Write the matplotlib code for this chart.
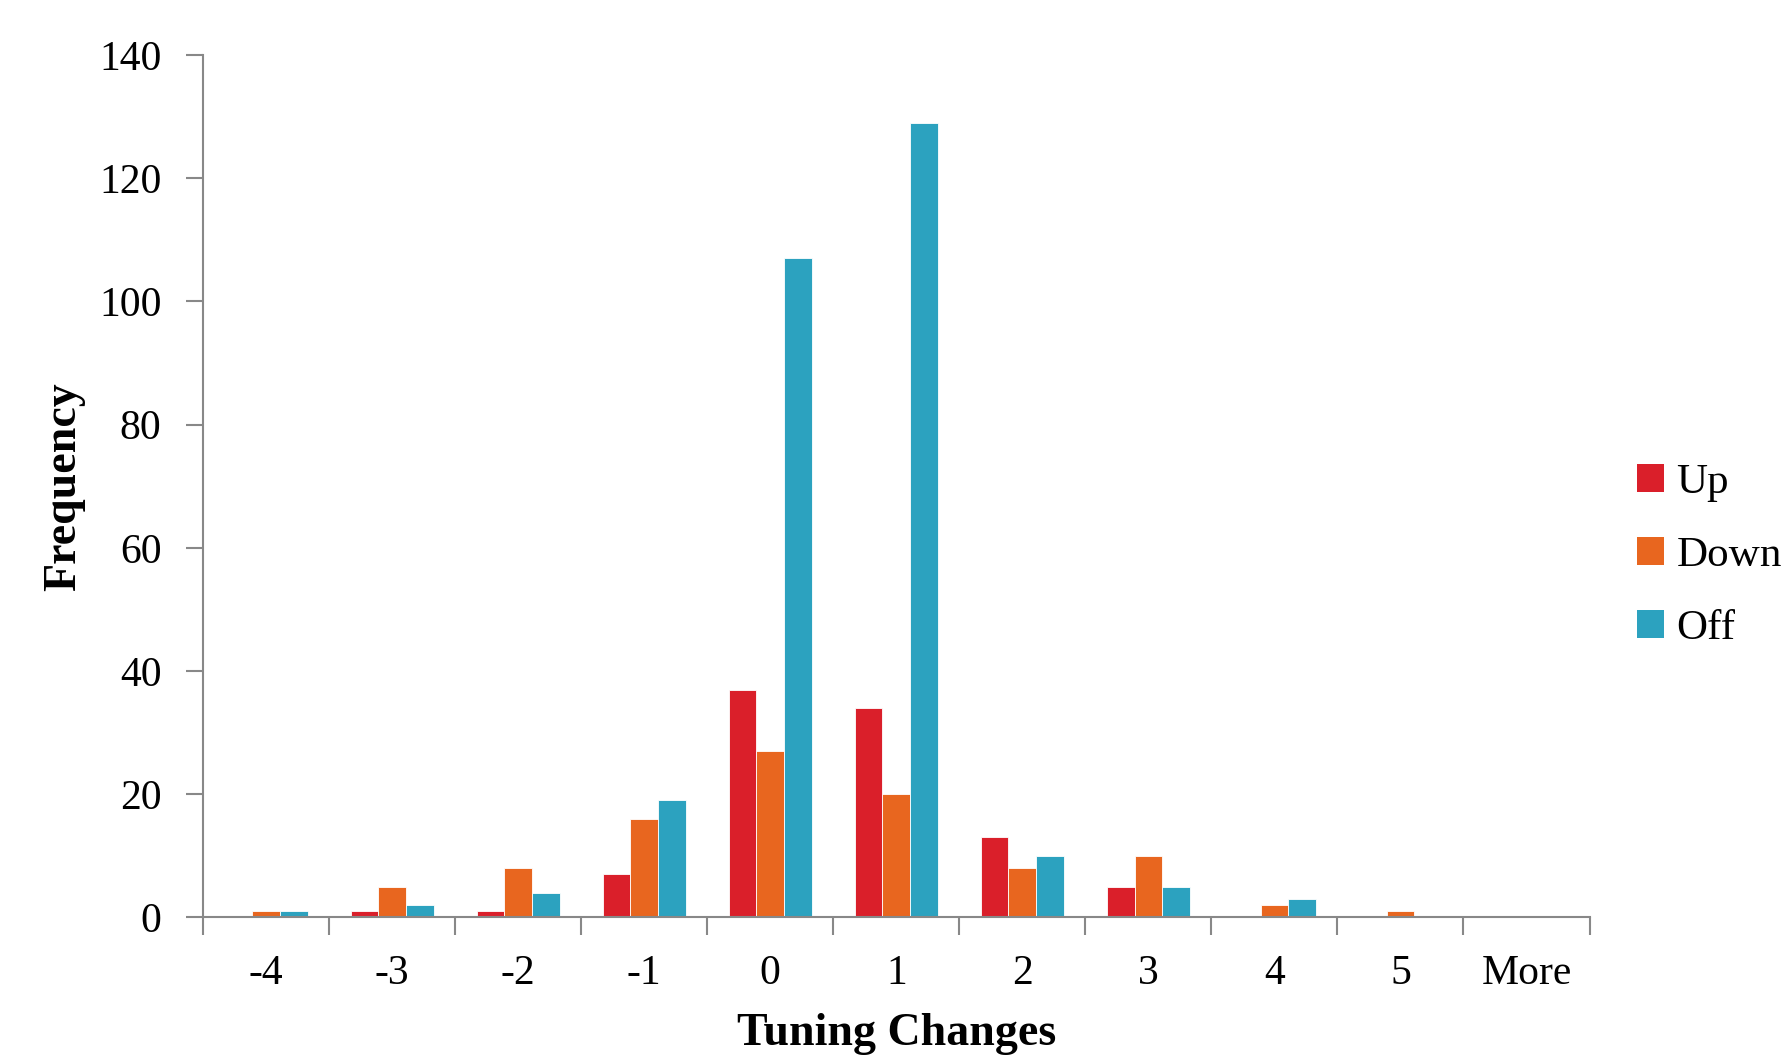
import numpy as np
import matplotlib.pyplot as plt
from matplotlib.patches import Patch

categories = ['-4', '-3', '-2', '-1', '0', '1', '2', '3', '4', '5', 'More']
up = [0, 1, 1, 7, 37, 34, 13, 5, 0, 0, 0]
down = [1, 5, 8, 16, 27, 20, 8, 10, 2, 1, 0]
off = [1, 2, 4, 19, 107, 129, 10, 5, 3, 0, 0]
series = [('Up', up, '#DA1F2A'), ('Down', down, '#E8661F'), ('Off', off, '#2CA2BF')]

plt.rcParams['font.family'] = ['Liberation Serif', 'DejaVu Serif']

fig = plt.figure(figsize=(17.89, 10.57), dpi=100)
ax = fig.add_axes([0.1135, 0.132, 0.775, 0.816])

x = np.arange(len(categories))
w = 0.22
for i, (name, vals, col) in enumerate(series):
    ax.bar(x + (i - 1) * w, vals, width=w, color=col, edgecolor='white',
           linewidth=0.6, label=name, zorder=2)

ax.set_xlim(-0.5, len(categories) - 0.5)
ax.set_ylim(0, 140)
ax.set_yticks(range(0, 141, 20))
ax.set_xticks(x)
ax.set_xticklabels(categories, fontsize=30)
ax.set_xticks(np.arange(-0.5, len(categories), 1), minor=True)
ax.tick_params(axis='x', which='major', length=0, pad=27)
ax.tick_params(axis='x', which='minor', length=13, width=1.5, color='#888888', direction='out')
ax.tick_params(axis='y', labelsize=30, length=12, width=1.5, color='#888888', pad=18)

for s in ['top', 'right']:
    ax.spines[s].set_visible(False)
for s in ['left', 'bottom']:
    ax.spines[s].set_color('#888888')
    ax.spines[s].set_linewidth(1.5)

ax.set_ylabel('Frequency', fontsize=33, fontweight='bold', labelpad=10)
ax.set_xlabel('Tuning Changes', fontsize=33, fontweight='bold', labelpad=14)

handles = [Patch(facecolor=c, label=n) for n, _, c in series]
fig.legend(handles=handles, loc='center left', bbox_to_anchor=(0.915, 0.474),
           frameon=False, fontsize=31, handlelength=0.62, handleheight=0.62,
           labelspacing=0.8, handletextpad=0.3, borderpad=0, borderaxespad=0)

fig.savefig('out.png', dpi=100)
